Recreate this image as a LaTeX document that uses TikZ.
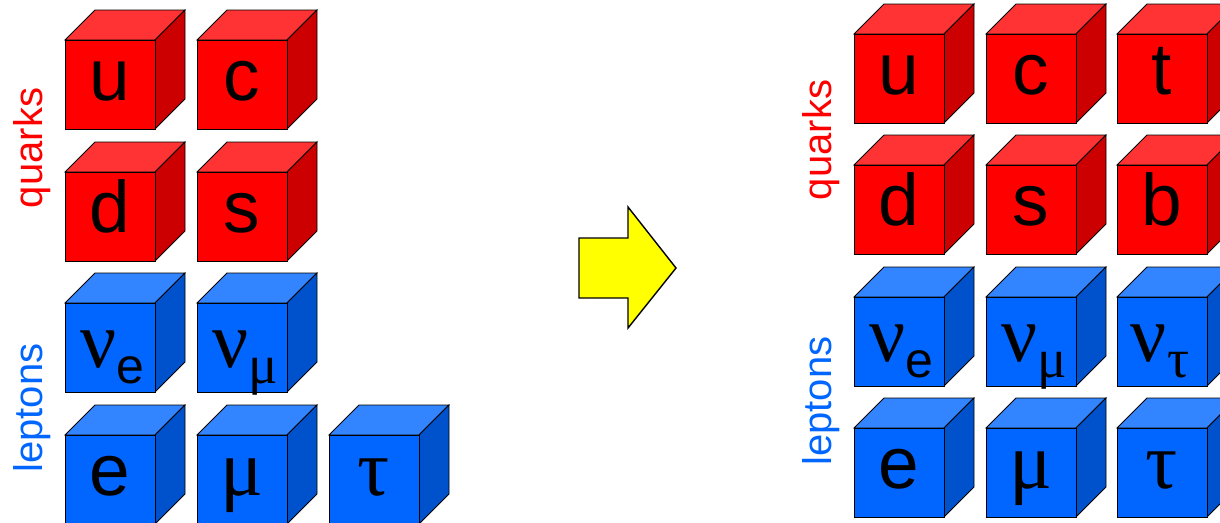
\documentclass[tikz,border=0pt]{standalone}
\usepackage{fontspec}
\setmainfont{Liberation Sans}
\newfontfamily\grk{Liberation Serif}
\definecolor{rfront}{HTML}{FF0000}
\definecolor{rtop}{HTML}{FF3333}
\definecolor{rside}{HTML}{CC0000}
\definecolor{bfront}{HTML}{0066FF}
\definecolor{btop}{HTML}{3385FF}
\definecolor{bside}{HTML}{0052CC}
\definecolor{arrowyellow}{HTML}{FFFF00}
\newcommand\mycube[5]{% x, top y, scheme (r/b), node name, label
  \filldraw[cubeline,fill=#3top] (#1,#2) -- ++(30,-30) -- ++(90,0) -- ++(-30,30) -- cycle;
  \filldraw[cubeline,fill=#3side] (#1+90,#2) -- ++(30,-30) -- ++(0,89) -- ++(-30,30) -- cycle;
  \filldraw[cubeline,fill=#3front] (#1,#2) rectangle ++(90,89);
  \node[cubelabel] (#4) at (#1+45,#2+60) {#5};
}
\newcommand\bigletter[1]{\fontsize{73}{73}\selectfont #1}
\newcommand\bigGreek[1]{\fontsize{80}{80}\selectfont\grk #1}
\newcommand\nusub[1]{{\fontsize{80}{80}\selectfont\grk ν}\raisebox{-16pt}{#1}}
\newcommand\subE{\fontsize{50}{50}\selectfont e}
\newcommand\subG[1]{\fontsize{55}{55}\selectfont\grk #1}
\begin{document}
\begin{tikzpicture}[x=1pt,y=-1pt,
  cubeline/.style={draw=black,line width=0.9pt,line join=miter},
  cubelabel/.style={anchor=base,inner sep=0pt,text=black},
  grouplabel/.style={rotate=90,anchor=base,inner sep=0pt,font=\fontsize{40}{40}\selectfont},
  bigarrow/.style={draw=black,fill=arrowyellow,line width=1.4pt,line join=miter}]
\useasboundingbox (0,0) rectangle (1220,522);
\clip (0,0) rectangle (1220,522);
% left group
\mycube{65}{40}{r}{Lu}{\bigletter{u}}
\mycube{197}{40}{r}{Lc}{\bigletter{c}}
\mycube{65}{172}{r}{Ld}{\bigletter{d}}
\mycube{197}{172}{r}{Ls}{\bigletter{s}}
\mycube{65}{303}{b}{Lnue}{}
\mycube{197}{303}{b}{Lnumu}{}
\mycube{65}{435}{b}{Le}{\bigletter{e}}
\mycube{197}{435}{b}{Lmu}{\bigGreek{μ}}
\mycube{329}{435}{b}{Ltau}{\bigGreek{τ}}
\node[cubelabel] (Lnuetxt) at (112,367) {\nusub{\subE}};
\node[cubelabel] (Lnumutxt) at (245,367) {\nusub{\subG{μ}}};
\node[grouplabel,text=rfront] (Lq) at (42,148) {quarks};
\node[grouplabel,text=bfront] (Ll) at (42,408) {leptons};
% arrow
\filldraw[bigarrow] (579,238) -- (628,238) -- (628,207) -- (676,268) -- (628,328) -- (628,298) -- (579,298) -- cycle;
% right group
\mycube{854}{34}{r}{Ru}{\bigletter{u}}
\mycube{986}{34}{r}{Rc}{\bigletter{c}}
\mycube{1117}{34}{r}{Rt}{\bigletter{t}}
\mycube{854}{165}{r}{Rd}{\bigletter{d}}
\mycube{986}{165}{r}{Rs}{\bigletter{s}}
\mycube{1117}{165}{r}{Rb}{\bigletter{b}}
\mycube{854}{297}{b}{Rnue}{}
\mycube{986}{297}{b}{Rnumu}{}
\mycube{1117}{297}{b}{Rnutau}{}
\mycube{854}{428}{b}{Re}{\bigletter{e}}
\mycube{986}{428}{b}{Rmu}{\bigGreek{μ}}
\mycube{1117}{428}{b}{Rtau}{\bigGreek{τ}}
\node[cubelabel] (Rnuetxt) at (901,361) {\nusub{\subE}};
\node[cubelabel] (Rnumutxt) at (1034,361) {\nusub{\subG{μ}}};
\node[cubelabel] (Rnutautxt) at (1160,361) {\nusub{\subG{τ}}};
\node[grouplabel,text=rfront] (Rq) at (831,140) {quarks};
\node[grouplabel,text=bfront] (Rl) at (831,401) {leptons};
\end{tikzpicture}
\end{document}
